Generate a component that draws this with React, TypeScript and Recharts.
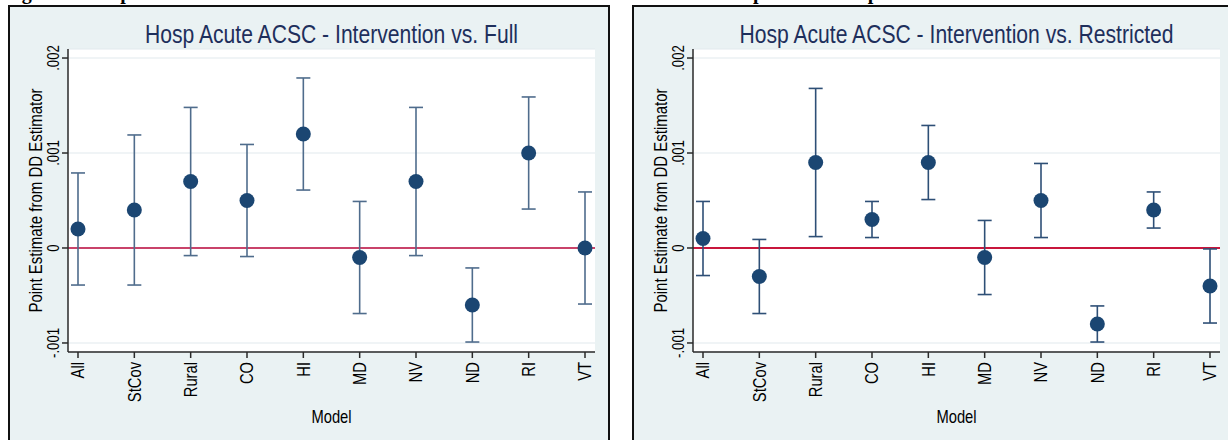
import React from "react";
import {
  ScatterChart,
  Scatter,
  XAxis,
  YAxis,
  CartesianGrid,
  ReferenceLine,
  ErrorBar,
} from "recharts";

// ---------- data ----------
const categories = ["All", "StCov", "Rural", "CO", "HI", "MD", "NV", "ND", "RI", "VT"];
const categoryPositions = [1, 2, 3, 4, 5, 6, 7, 8, 9, 10];

const fullEst = [0.0002, 0.0004, 0.0007, 0.0005, 0.0012, -0.0001, 0.0007, -0.0006, 0.001, 0.0];
const fullLo = [-0.00039, -0.00039, -0.00008, -0.00009, 0.00061, -0.00069, -0.00008, -0.00099, 0.00041, -0.00059];
const fullHi = [0.00079, 0.00119, 0.00148, 0.00109, 0.00179, 0.00049, 0.00148, -0.00021, 0.00159, 0.00059];

const restEst = [0.0001, -0.0003, 0.0009, 0.0003, 0.0009, -0.0001, 0.0005, -0.0008, 0.0004, -0.0004];
const restLo = [-0.00029, -0.00069, 0.00012, 0.00011, 0.00051, -0.00049, 0.00011, -0.00099, 0.00021, -0.00079];
const restHi = [0.00049, 0.00009, 0.00168, 0.00049, 0.00129, 0.00029, 0.00089, -0.00061, 0.00059, -0.00001];

const yTicks = [-0.001, 0, 0.001, 0.002];
const yTickLabels = ["-.001", "0", ".001", ".002"];

const captionText =
  "Figure 4: Hosp Acute ACSC \u2013 Intervention vs. Full and Intervention vs. Restricted Comparison Group Point Estimates";

// ---------- helpers ----------
const FONT = "'Liberation Sans', Arial, Helvetica, sans-serif";
const SX = 0.82; // narrow Helvetica look

function build(est: number[], lo: number[], hi: number[]) {
  return categories.map((c, i) => ({
    x: categoryPositions[i],
    y: est[i],
    err: [est[i] - lo[i], hi[i] - est[i]],
    name: c,
  }));
}

function NText(props: any) {
  const { x, y, angle = 0, anchor = "middle", size, fill = "#000", dy, sx = SX, children } = props;
  return (
    <text
      transform={`translate(${x},${y}) rotate(${angle}) scale(${sx},1)`}
      textAnchor={anchor}
      fontSize={size}
      fill={fill}
      fontFamily={FONT}
      dy={dy}
    >
      {children}
    </text>
  );
}

const XTick = (props: any) => {
  const { x, y, payload } = props;
  const idx = categoryPositions.indexOf(payload.value);
  return (
    <NText x={x} y={y} angle={-90} anchor="end" size={18} dy="0.36em">
      {categories[idx]}
    </NText>
  );
};

const YTick = (props: any) => {
  const { x, y, payload } = props;
  const idx = yTicks.findIndex((t) => Math.abs(t - payload.value) < 1e-9);
  return (
    <NText x={x} y={y} angle={-90} anchor="middle" size={16}>
      {yTickLabels[idx]}
    </NText>
  );
};

const CHART_W = 620;
const CHART_H = 440;
const M = { top: 49, right: 25, bottom: 28, left: 8 };
const Y_W = 60;
const X_H = 60;

function Panel(props: any) {
  const { left, title, data, whisker, refColor } = props;
  const plotL = M.left + Y_W;
  const plotR = CHART_W - M.right;
  const plotT = M.top;
  const plotB = CHART_H - M.bottom - X_H;
  const cx = (plotL + plotR) / 2;
  const cy = (plotT + plotB) / 2;
  return (
    <div style={{ position: "absolute", left, top: 0, width: CHART_W, height: CHART_H }}>
      <ScatterChart width={CHART_W} height={CHART_H} margin={M}>
        <CartesianGrid horizontal vertical={false} stroke="#E2EAEE" strokeWidth={1.2} fill="#ffffff" />
        <XAxis
          type="number"
          dataKey="x"
          domain={[0.8225, 10.1775]}
          ticks={categoryPositions}
          interval={0}
          height={X_H}
          tickSize={6}
          tickMargin={4}
          axisLine={{ stroke: "#2a2a2a", strokeWidth: 1.5 }}
          tickLine={{ stroke: "#2a2a2a", strokeWidth: 1.5 }}
          tick={<XTick />}
          allowDataOverflow
        />
        <YAxis
          type="number"
          dataKey="y"
          domain={[-0.001095, 0.002095]}
          ticks={yTicks}
          interval={0}
          width={Y_W}
          tickSize={6}
          tickMargin={3}
          axisLine={{ stroke: "#2a2a2a", strokeWidth: 1.5 }}
          tickLine={{ stroke: "#2a2a2a", strokeWidth: 1.5 }}
          tick={<YTick />}
          allowDataOverflow
        />
        <ReferenceLine y={0} stroke={refColor} strokeWidth={2} />
        <Scatter
          data={data}
          isAnimationActive={false}
          shape={(p: any) => <circle cx={p.cx} cy={p.cy} r={7.5} fill="#1B4672" />}
        >
          <ErrorBar dataKey="err" direction="y" width={7} stroke={whisker} strokeWidth={1.6} />
        </Scatter>
      </ScatterChart>
      <svg
        width={CHART_W}
        height={CHART_H}
        style={{ position: "absolute", left: 0, top: 0, pointerEvents: "none" }}
      >
        <NText x={cx} y={43} size={25} sx={0.845} fill="#1E2F5C">
          {title}
        </NText>
        <NText x={41.5} y={cy} angle={-90} size={18.3}>
          Point Estimate from DD Estimator
        </NText>
        <NText x={cx} y={423} size={18}>
          Model
        </NText>
      </svg>
    </div>
  );
}

export default function App() {
  const fullData = build(fullEst, fullLo, fullHi);
  const restData = build(restEst, restLo, restHi);
  return (
    <div
      style={{
        position: "relative",
        width: 1228,
        height: 440,
        overflow: "hidden",
        background: "#ffffff",
        fontFamily: FONT,
      }}
    >
      <style>{"body{margin:0}"}</style>
      <div
        style={{
          position: "absolute",
          left: 4,
          top: -19,
          fontFamily: "'Liberation Serif', 'Times New Roman', serif",
          fontWeight: "bold",
          fontSize: 20,
          whiteSpace: "nowrap",
          color: "#000",
        }}
      >
        {captionText}
      </div>
      <div
        style={{
          position: "absolute",
          left: 8,
          top: 5,
          width: 598,
          height: 460,
          border: "2px solid #111",
          background: "#EAF2F3",
        }}
      />
      <div
        style={{
          position: "absolute",
          left: 632,
          top: 5,
          width: 620,
          height: 460,
          border: "2px solid #111",
          background: "#EAF2F3",
        }}
      />
      <Panel
        left={0}
        title="Hosp Acute ACSC - Intervention vs. Full"
        data={fullData}
        whisker="#4F6C8C"
        refColor="#C9436A"
      />
      <Panel
        left={625}
        title="Hosp Acute ACSC - Intervention vs. Restricted"
        data={restData}
        whisker="#2E4F76"
        refColor="#C8163C"
      />
    </div>
  );
}
